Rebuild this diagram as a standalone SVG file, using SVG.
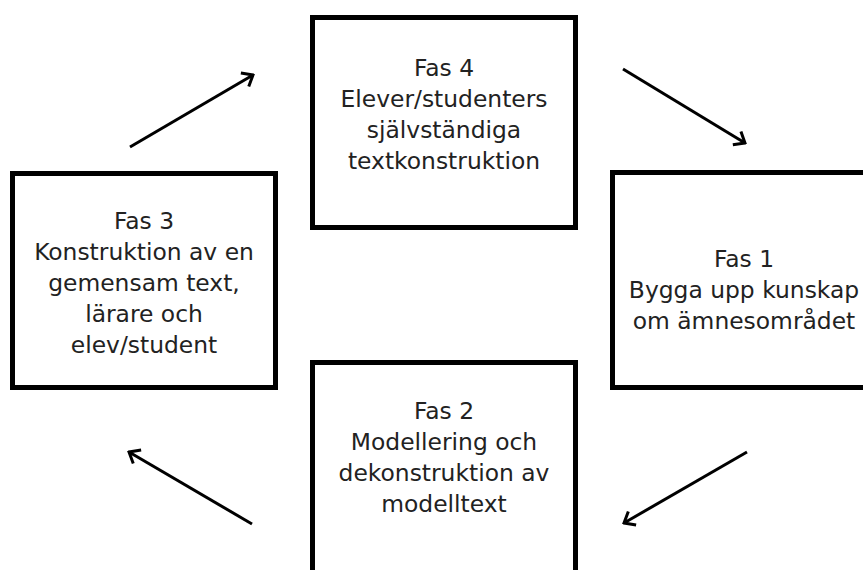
<svg xmlns="http://www.w3.org/2000/svg" width="863" height="570" viewBox="0 0 863 570">
<style>
.box{fill:#fff;stroke:#000;stroke-width:5}
.t{font-family:"DejaVu Sans",sans-serif;font-size:23.4px;fill:#222;text-anchor:middle}
.c{stroke:#000;stroke-width:3;fill:none}
</style>
<defs>
<marker id="ah" markerUnits="userSpaceOnUse" viewBox="-14 -11 16 22" markerWidth="16" markerHeight="22" refX="0" refY="0" orient="auto">
<path d="M-9.5,-7.8 L0,0 L-9.5,7.8" fill="none" stroke="#000" stroke-width="3"/>
</marker>
</defs>
<rect width="863" height="570" fill="#fff"/>
<g id="fas4">
<rect class="box" x="312.5" y="17.5" width="263" height="210"/>
<text class="t" x="444" y="76">Fas 4</text>
<text class="t" x="444" y="107">Elever/studenters</text>
<text class="t" x="444" y="138">självständiga</text>
<text class="t" x="444" y="169">textkonstruktion</text>
</g>
<g id="fas1">
<rect class="box" x="612.5" y="172.5" width="265" height="215"/>
<text class="t" x="744" y="267">Fas 1</text>
<text class="t" x="744" y="298">Bygga upp kunskap</text>
<text class="t" x="744" y="329">om ämnesområdet</text>
</g>
<g id="fas3">
<rect class="box" x="12.5" y="173.5" width="263" height="214"/>
<text class="t" x="144" y="229">Fas 3</text>
<text class="t" x="144" y="260">Konstruktion av en</text>
<text class="t" x="144" y="291">gemensam text,</text>
<text class="t" x="144" y="322">lärare och</text>
<text class="t" x="144" y="353">elev/student</text>
</g>
<g id="fas2">
<rect class="box" x="312.5" y="362.5" width="263" height="230"/>
<text class="t" x="444" y="419">Fas 2</text>
<text class="t" x="444" y="450">Modellering och</text>
<text class="t" x="444" y="481">dekonstruktion av</text>
<text class="t" x="444" y="512">modelltext</text>
</g>
<g id="connectors">
<line class="c" x1="130" y1="147" x2="253" y2="75" marker-end="url(#ah)"/>
<line class="c" x1="623" y1="69" x2="745" y2="143" marker-end="url(#ah)"/>
<line class="c" x1="747" y1="452" x2="624" y2="523" marker-end="url(#ah)"/>
<line class="c" x1="252" y1="524" x2="129" y2="452" marker-end="url(#ah)"/>
</g>
</svg>
